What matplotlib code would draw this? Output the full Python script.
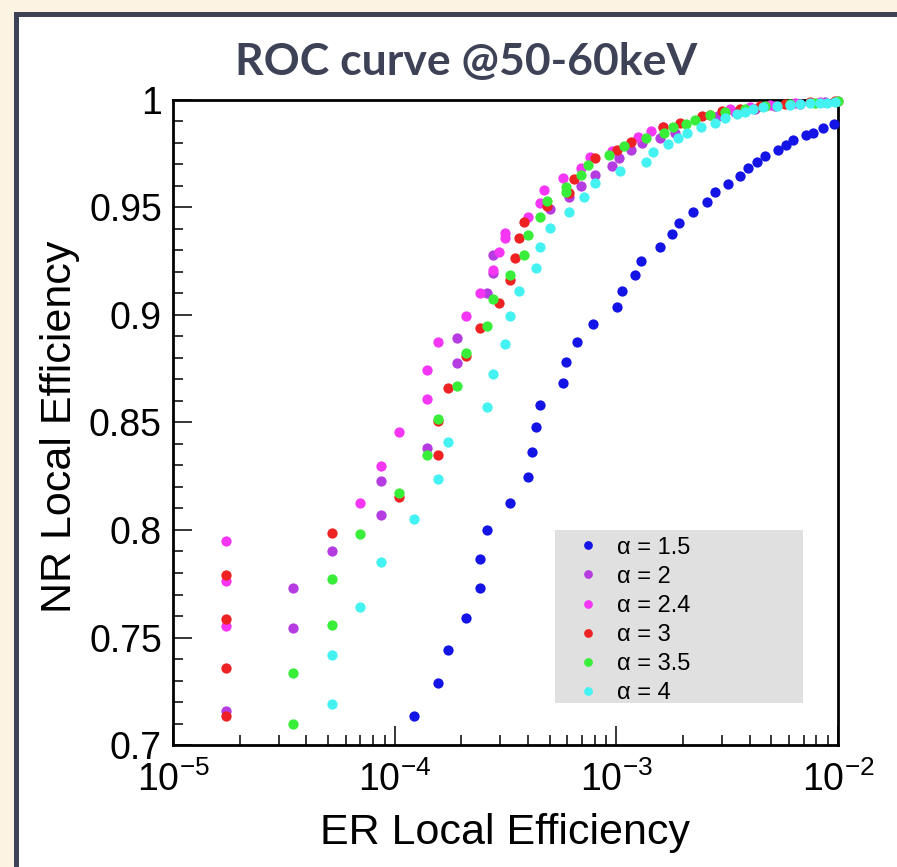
import matplotlib
matplotlib.use("Agg")
import matplotlib.pyplot as plt
from matplotlib.patches import Rectangle
from matplotlib.ticker import FixedLocator, LogLocator, NullFormatter

plt.rcParams['font.family'] = ['Liberation Sans', 'DejaVu Sans']
plt.rcParams['mathtext.fontset'] = 'custom'
plt.rcParams['mathtext.rm'] = 'Liberation Sans'
plt.rcParams['mathtext.it'] = 'Liberation Sans:italic'

# ER / NR local efficiency per alpha
er_a15 = [1.218e-4, 1.566e-4, 1.740e-4, 2.088e-4, 2.436e-4, 2.436e-4, 2.610e-4, 3.306e-4,
          4.002e-4, 4.176e-4, 4.350e-4, 4.524e-4, 5.742e-4, 5.916e-4, 6.612e-4, 7.830e-4,
          1.009e-3, 1.061e-3, 1.218e-3, 1.288e-3, 1.566e-3, 1.792e-3, 1.914e-3, 2.227e-3,
          2.575e-3, 2.784e-3, 3.20e-3, 3.61e-3, 3.93e-3, 4.29e-3, 4.68e-3, 5.38e-3,
          5.82e-3, 6.29e-3, 7.15e-3, 7.74e-3, 8.59e-3, 9.60e-3]
nr_a15 = [0.7135, 0.729, 0.744, 0.759, 0.773, 0.7865, 0.800, 0.8127, 0.8245, 0.8364, 0.8478,
          0.8581, 0.8682, 0.8783, 0.8873, 0.8958, 0.9039, 0.9112, 0.9186, 0.9253, 0.9317,
          0.9376, 0.943, 0.948, 0.9527, 0.9573, 0.9609, 0.9647, 0.9682, 0.9713, 0.974,
          0.9767, 0.979, 0.9814, 0.9837, 0.9848, 0.9868, 0.9887]

er_a2 = [1.74e-5, 3.48e-5, 3.48e-5, 5.22e-5, 8.70e-5, 8.70e-5, 1.392e-4, 1.914e-4, 1.914e-4,
         2.610e-4, 2.784e-4, 2.784e-4, 5.046e-4, 6.090e-4, 6.960e-4, 8.004e-4, 9.570e-4,
         1.027e-3, 1.166e-3, 1.305e-3, 1.566e-3, 1.844e-3, 2.87e-3, 3.43e-3, 4.22e-3,
         5.20e-3, 6.73e-3, 8.74e-3]
nr_a2 = [0.716, 0.773, 0.7546, 0.790, 0.807, 0.823, 0.838, 0.8778, 0.8894, 0.9104, 0.9193,
         0.9279, 0.9491, 0.955, 0.960, 0.965, 0.9693, 0.9729, 0.9767, 0.9798, 0.9822, 0.9848,
         0.9925, 0.9945, 0.996, 0.9972, 0.9983, 0.999]

er_a24 = [1.74e-5, 1.74e-5, 1.74e-5, 6.96e-5, 8.70e-5, 1.044e-4, 1.392e-4, 1.392e-4, 1.566e-4,
          2.088e-4, 2.436e-4, 2.784e-4, 2.958e-4, 3.132e-4, 3.132e-4, 4.002e-4, 4.524e-4,
          4.698e-4, 5.742e-4, 6.960e-4, 7.60e-4, 9.570e-4, 1.253e-3, 1.427e-3, 1.618e-3,
          3.26e-3, 4.01e-3, 4.93e-3, 6.40e-3, 8.28e-3, 1.0e-2]
nr_a24 = [0.795, 0.7765, 0.7555, 0.8127, 0.8298, 0.8457, 0.8608, 0.8744, 0.8876, 0.8997,
          0.9104, 0.921, 0.9294, 0.938, 0.936, 0.9454, 0.952, 0.9581, 0.9636, 0.9685, 0.9733,
          0.9764, 0.9829, 0.9856, 0.9876, 0.9956, 0.9965, 0.9975, 0.9985, 0.9992, 0.9997]

er_a3 = [1.74e-5, 1.74e-5, 1.74e-5, 1.74e-5, 5.22e-5, 1.044e-4, 1.566e-4, 1.566e-4, 1.740e-4,
         2.088e-4, 2.436e-4, 2.958e-4, 3.306e-4, 3.480e-4, 3.654e-4, 3.828e-4, 4.872e-4,
         6.090e-4, 6.438e-4, 8.004e-4, 1.009e-3, 1.166e-3, 1.618e-3, 1.931e-3, 2.436e-3,
         2.645e-3, 3.00e-3, 3.61e-3, 4.45e-3, 5.77e-3, 7.47e-3, 9.69e-3]
nr_a3 = [0.779, 0.7585, 0.7357, 0.7135, 0.7986, 0.8155, 0.8349, 0.8505, 0.8662, 0.881, 0.8938,
         0.9057, 0.9163, 0.9263, 0.936, 0.9434, 0.9507, 0.9568, 0.9633, 0.973, 0.9767, 0.9806,
         0.9876, 0.9891, 0.9926, 0.993, 0.995, 0.996, 0.9972, 0.9982, 0.999, 0.9995]

er_a35 = [3.48e-5, 3.48e-5, 5.22e-5, 5.22e-5, 6.96e-5, 1.044e-4, 1.392e-4, 1.566e-4, 1.914e-4,
          2.088e-4, 2.610e-4, 2.784e-4, 3.306e-4, 3.828e-4, 4.002e-4, 4.524e-4, 4.872e-4,
          5.916e-4, 5.916e-4, 6.960e-4, 7.482e-4, 9.222e-4, 1.079e-3, 1.357e-3, 1.636e-3,
          1.810e-3, 2.053e-3, 2.262e-3, 2.645e-3, 3.09e-3, 3.80e-3, 4.69e-3, 6.07e-3,
          7.87e-3, 1.0e-2]
nr_a35 = [0.7335, 0.710, 0.777, 0.756, 0.798, 0.817, 0.8347, 0.8514, 0.867, 0.8822, 0.895,
          0.9073, 0.9186, 0.9281, 0.937, 0.9454, 0.9532, 0.9594, 0.9573, 0.965, 0.9698,
          0.9744, 0.9786, 0.9822, 0.9845, 0.9873, 0.9887, 0.9907, 0.993, 0.9945, 0.9958,
          0.997, 0.998, 0.9988, 0.9995]

er_a4 = [5.22e-5, 5.22e-5, 6.96e-5, 8.70e-5, 1.218e-4, 1.566e-4, 1.740e-4, 2.610e-4, 2.784e-4,
         3.132e-4, 3.306e-4, 3.654e-4, 4.350e-4, 4.524e-4, 5.046e-4, 6.090e-4, 7.134e-4,
         8.004e-4, 1.044e-3, 1.357e-3, 1.462e-3, 1.705e-3, 1.897e-3, 2.088e-3, 2.401e-3,
         2.784e-3, 3.09e-3, 3.49e-3, 3.80e-3, 4.15e-3, 4.60e-3, 5.29e-3, 6.07e-3, 6.73e-3,
         7.47e-3, 8.28e-3, 8.89e-3, 9.69e-3]
nr_a4 = [0.742, 0.719, 0.764, 0.785, 0.805, 0.8235, 0.841, 0.8573, 0.8724, 0.8865, 0.8995,
         0.911, 0.9217, 0.9317, 0.9403, 0.9479, 0.9547, 0.9612, 0.967, 0.9713, 0.9758, 0.9794,
         0.9822, 0.9845, 0.9876, 0.9891, 0.9915, 0.9935, 0.9946, 0.996, 0.9969, 0.9972,
         0.9977, 0.998, 0.9984, 0.9984, 0.9987, 0.999]

labels = ['α = 1.5', 'α = 2', 'α = 2.4', 'α = 3', 'α = 3.5', 'α = 4']
colors = ['#1414e6', '#b43ce0', '#f537f5', '#ee2222', '#38ee38', '#44f2f2']
series = [(er_a15, nr_a15), (er_a2, nr_a2), (er_a24, nr_a24),
          (er_a3, nr_a3), (er_a35, nr_a35), (er_a4, nr_a4)]

y_ticks = [0.7, 0.75, 0.8, 0.85, 0.9, 0.95, 1.0]
y_ticklabels = ['0.7', '0.75', '0.8', '0.85', '0.9', '0.95', '1']

fig = plt.figure(figsize=(8.97, 8.67), dpi=100)
fig.patch.set_facecolor('#fdf3e2')
# slide frame, kept behind the axes
fig.patches.append(Rectangle((0.0156, -0.1), 1.2, 1.0862, transform=fig.transFigure,
                             facecolor='#3e4257', edgecolor='none', zorder=-10))
fig.patches.append(Rectangle((0.0212, -0.1), 1.2, 1.0804, transform=fig.transFigure,
                             facecolor='white', edgecolor='none', zorder=-9))

ax = fig.add_axes([0.1929, 0.1407, 0.7413, 0.744])
ax.set_facecolor('white')

handles = []
for (er, nr), col, lab in zip(series, colors, labels):
    h, = ax.plot(er, nr, 'o', ms=7.4, mew=0, color=col, label=lab, clip_on=False, zorder=3)
    handles.append(h)

ax.set_xscale('log')
ax.set_xlim(1e-5, 1e-2)
ax.set_ylim(0.7, 1.0)

ax.yaxis.set_major_locator(FixedLocator(y_ticks))
ax.set_yticklabels(y_ticklabels)
ax.yaxis.set_minor_locator(FixedLocator([0.7 + 0.01 * i for i in range(31)]))
ax.xaxis.set_major_locator(LogLocator(base=10))
ax.xaxis.set_minor_locator(LogLocator(base=10, subs=range(2, 10)))
ax.xaxis.set_minor_formatter(NullFormatter())

ax.tick_params(which='both', direction='in', top=False, right=False, width=1.1, color='black')
ax.tick_params(which='major', length=14)
ax.tick_params(which='minor', length=7)
ax.tick_params(axis='y', labelsize=27, pad=8)
ax.tick_params(axis='x', labelsize=27, pad=12)

for sp in ax.spines.values():
    sp.set_linewidth(2.0)
    sp.set_color('black')

ax.set_xlabel('ER Local Efficiency', fontsize=31)
ax.set_ylabel('NR Local Efficiency', fontsize=31)
ax.xaxis.set_label_coords(0.4985, -0.105)
ax.yaxis.set_label_coords(-0.14, 0.493)

# grey legend panel
ax.add_patch(Rectangle((0.574, 0.065), 0.373, 0.268, transform=ax.transAxes,
                       facecolor='#e0e0e0', edgecolor='none', zorder=1))
ax.legend(handles=handles, loc='upper left', bbox_to_anchor=(0.6075, 0.323),
          frameon=False, fontsize=17, labelspacing=0.3, handlelength=0.9,
          handletextpad=0.8, borderpad=0, borderaxespad=0, markerscale=0.85)

fig.text(0.52, 0.928, 'ROC curve @50-60keV', fontsize=32, fontweight='bold',
         family='Lato', color='#3e4257', ha='center', va='center')

fig.savefig('out.png', dpi=100, facecolor=fig.get_facecolor())
